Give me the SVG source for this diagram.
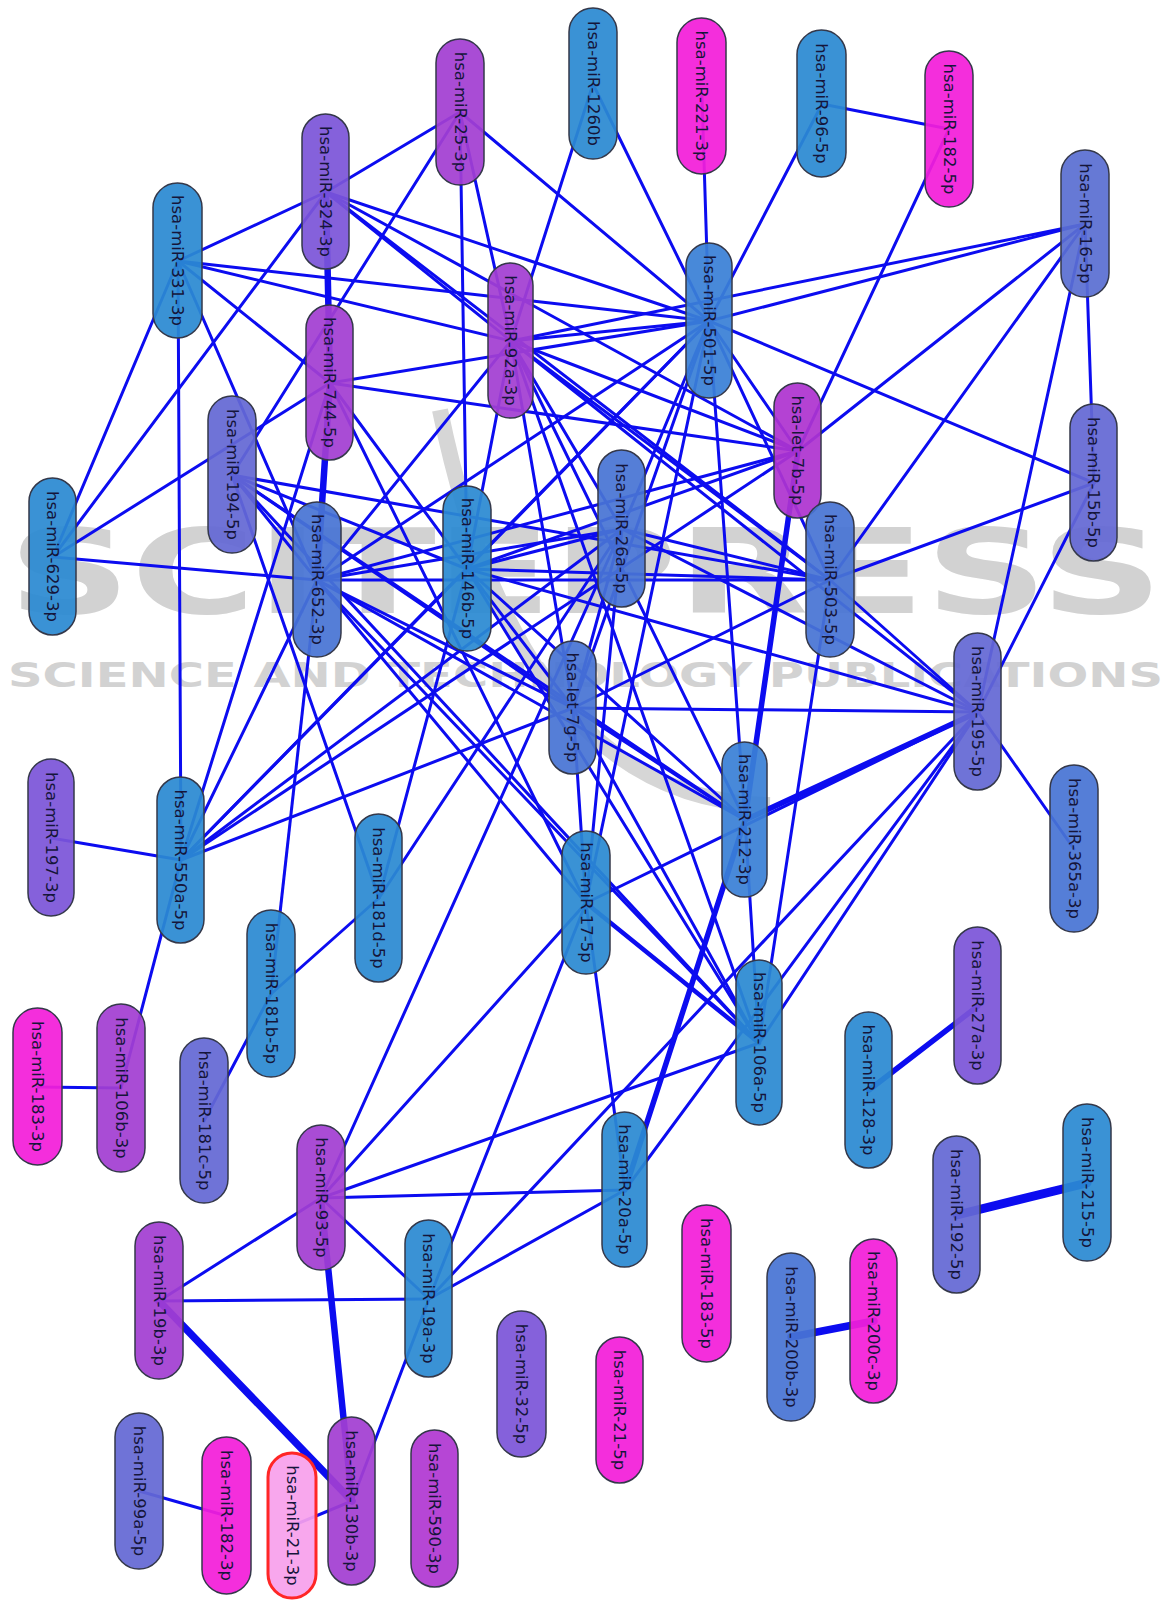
<svg xmlns="http://www.w3.org/2000/svg" width="1168" height="1600" viewBox="0 0 1168 1600">
<style>
.wm{fill:#d2d2d2;font-family:"DejaVu Sans",sans-serif;font-weight:bold}
.edges line{stroke:#0c0cf0;stroke-width:3;stroke-linecap:round}
.edges .w4{stroke-width:4.5}.edges .w5{stroke-width:5.5}.edges .w6{stroke-width:6.5}.edges .w7{stroke-width:7.5}.edges .w8{stroke-width:9}
.node rect{stroke:#34384a;stroke-width:1.5;fill-opacity:0.93}
.node text{font-family:"DejaVu Sans",sans-serif;font-size:16.5px;fill:#15153a;text-anchor:middle;dominant-baseline:central}
.sky rect{fill:#2b8ad2}.mid rect{fill:#3a80d6}.blu rect{fill:#4874d4}.sla rect{fill:#6468d4}.pur rect{fill:#7c55d8}.vio rect{fill:#a23ed2}.mag rect{fill:#f31ed9}
</style>
<rect width="1168" height="1600" fill="#ffffff"/>
<g id="watermark">
<path d="M440 410 Q 520 800 770 805" fill="none" stroke="#d6d6d6" stroke-width="16"/>
<text class="wm" x="8" y="613" font-size="118" textLength="1155" lengthAdjust="spacingAndGlyphs">SCITEPRESS</text>
<text class="wm" x="8" y="687" font-size="33" textLength="1155" lengthAdjust="spacingAndGlyphs">SCIENCE AND TECHNOLOGY PUBLICATIONS</text>
</g>
<g id="edges" class="edges">
<line x1="822" y1="104" x2="949" y2="129"/>
<line x1="822" y1="104" x2="709" y2="321"/>
<line x1="949" y1="129" x2="798" y2="451"/>
<line x1="702" y1="96" x2="709" y2="321"/>
<line x1="593" y1="84" x2="709" y2="321"/>
<line x1="593" y1="84" x2="511" y2="341"/>
<line x1="460" y1="112" x2="326" y2="192"/>
<line x1="460" y1="112" x2="232" y2="475"/>
<line x1="460" y1="112" x2="511" y2="341"/>
<line x1="460" y1="112" x2="709" y2="321"/>
<line x1="460" y1="112" x2="467" y2="569"/>
<line x1="178" y1="261" x2="326" y2="192"/>
<line x1="178" y1="261" x2="709" y2="321"/>
<line x1="178" y1="261" x2="511" y2="341"/>
<line x1="178" y1="261" x2="330" y2="383"/>
<line x1="178" y1="261" x2="317" y2="580"/>
<line x1="178" y1="261" x2="181" y2="860"/>
<line x1="178" y1="261" x2="53" y2="557"/>
<line x1="326" y1="192" x2="53" y2="557"/>
<line class="w6" x1="326" y1="192" x2="330" y2="383"/>
<line x1="326" y1="192" x2="709" y2="321"/>
<line x1="326" y1="192" x2="798" y2="451"/>
<line x1="326" y1="192" x2="830" y2="580"/>
<line x1="326" y1="192" x2="511" y2="341"/>
<line x1="330" y1="383" x2="53" y2="557"/>
<line class="w6" x1="330" y1="383" x2="317" y2="580"/>
<line x1="330" y1="383" x2="181" y2="860"/>
<line x1="330" y1="383" x2="709" y2="321"/>
<line x1="330" y1="383" x2="798" y2="451"/>
<line x1="330" y1="383" x2="467" y2="569"/>
<line x1="330" y1="383" x2="586" y2="903"/>
<line x1="511" y1="341" x2="709" y2="321"/>
<line x1="511" y1="341" x2="1085" y2="224"/>
<line x1="511" y1="341" x2="798" y2="451"/>
<line x1="511" y1="341" x2="830" y2="580"/>
<line x1="511" y1="341" x2="978" y2="712"/>
<line x1="511" y1="341" x2="622" y2="529"/>
<line x1="511" y1="341" x2="573" y2="708"/>
<line x1="511" y1="341" x2="745" y2="820"/>
<line x1="511" y1="341" x2="317" y2="580"/>
<line x1="511" y1="341" x2="467" y2="569"/>
<line x1="511" y1="341" x2="759" y2="1043"/>
<line x1="709" y1="321" x2="1085" y2="224"/>
<line x1="709" y1="321" x2="1094" y2="483"/>
<line x1="709" y1="321" x2="798" y2="451"/>
<line x1="709" y1="321" x2="830" y2="580"/>
<line x1="709" y1="321" x2="622" y2="529"/>
<line x1="709" y1="321" x2="467" y2="569"/>
<line x1="709" y1="321" x2="317" y2="580"/>
<line x1="709" y1="321" x2="573" y2="708"/>
<line x1="709" y1="321" x2="586" y2="903"/>
<line x1="709" y1="321" x2="181" y2="860"/>
<line x1="709" y1="321" x2="745" y2="820"/>
<line x1="1085" y1="224" x2="798" y2="451"/>
<line x1="1085" y1="224" x2="830" y2="580"/>
<line x1="1085" y1="224" x2="978" y2="712"/>
<line x1="1085" y1="224" x2="1094" y2="483"/>
<line x1="1094" y1="483" x2="830" y2="580"/>
<line x1="1094" y1="483" x2="978" y2="712"/>
<line x1="978" y1="712" x2="1074" y2="849"/>
<line x1="978" y1="712" x2="622" y2="529"/>
<line x1="978" y1="712" x2="467" y2="569"/>
<line x1="978" y1="712" x2="573" y2="708"/>
<line class="w5" x1="978" y1="712" x2="745" y2="820"/>
<line x1="978" y1="712" x2="586" y2="903"/>
<line x1="978" y1="712" x2="429" y2="1299"/>
<line x1="978" y1="712" x2="625" y2="1190"/>
<line x1="978" y1="712" x2="759" y2="1043"/>
<line x1="978" y1="712" x2="830" y2="580"/>
<line x1="830" y1="580" x2="759" y2="1043"/>
<line x1="830" y1="580" x2="317" y2="580"/>
<line x1="830" y1="580" x2="467" y2="569"/>
<line x1="830" y1="580" x2="573" y2="708"/>
<line x1="830" y1="580" x2="622" y2="529"/>
<line x1="830" y1="580" x2="232" y2="475"/>
<line class="w5" x1="798" y1="451" x2="745" y2="820"/>
<line x1="798" y1="451" x2="317" y2="580"/>
<line x1="798" y1="451" x2="467" y2="569"/>
<line x1="798" y1="451" x2="181" y2="860"/>
<line x1="53" y1="557" x2="317" y2="580"/>
<line x1="232" y1="475" x2="317" y2="580"/>
<line x1="232" y1="475" x2="467" y2="569"/>
<line x1="232" y1="475" x2="573" y2="708"/>
<line x1="232" y1="475" x2="745" y2="820"/>
<line x1="232" y1="475" x2="379" y2="898"/>
<line x1="232" y1="475" x2="759" y2="1043"/>
<line x1="317" y1="580" x2="271" y2="994"/>
<line x1="317" y1="580" x2="181" y2="860"/>
<line x1="317" y1="580" x2="622" y2="529"/>
<line x1="317" y1="580" x2="573" y2="708"/>
<line x1="317" y1="580" x2="586" y2="903"/>
<line x1="317" y1="580" x2="745" y2="820"/>
<line x1="317" y1="580" x2="759" y2="1043"/>
<line x1="467" y1="569" x2="181" y2="860"/>
<line x1="467" y1="569" x2="379" y2="898"/>
<line x1="467" y1="569" x2="573" y2="708"/>
<line x1="467" y1="569" x2="759" y2="1043"/>
<line x1="467" y1="569" x2="745" y2="820"/>
<line x1="467" y1="569" x2="622" y2="529"/>
<line x1="622" y1="529" x2="181" y2="860"/>
<line x1="622" y1="529" x2="321" y2="1198"/>
<line x1="622" y1="529" x2="586" y2="903"/>
<line x1="622" y1="529" x2="573" y2="708"/>
<line x1="573" y1="708" x2="181" y2="860"/>
<line x1="573" y1="708" x2="586" y2="903"/>
<line x1="573" y1="708" x2="759" y2="1043"/>
<line x1="573" y1="708" x2="745" y2="820"/>
<line class="w4" x1="586" y1="903" x2="759" y2="1043"/>
<line x1="586" y1="903" x2="625" y2="1190"/>
<line x1="586" y1="903" x2="321" y2="1198"/>
<line x1="586" y1="903" x2="429" y2="1299"/>
<line class="w5" x1="745" y1="820" x2="625" y2="1190"/>
<line x1="745" y1="820" x2="759" y2="1043"/>
<line x1="321" y1="1198" x2="625" y2="1190"/>
<line x1="321" y1="1198" x2="759" y2="1043"/>
<line x1="321" y1="1198" x2="429" y2="1299"/>
<line x1="321" y1="1198" x2="159" y2="1301"/>
<line class="w6" x1="321" y1="1198" x2="352" y2="1501"/>
<line x1="159" y1="1301" x2="429" y2="1299"/>
<line class="w7" x1="159" y1="1301" x2="352" y2="1501"/>
<line x1="429" y1="1299" x2="352" y2="1501"/>
<line x1="429" y1="1299" x2="625" y2="1190"/>
<line x1="379" y1="898" x2="271" y2="994"/>
<line x1="271" y1="994" x2="204" y2="1121"/>
<line x1="379" y1="898" x2="622" y2="529"/>
<line x1="51" y1="838" x2="181" y2="860"/>
<line x1="181" y1="860" x2="121" y2="1088"/>
<line x1="121" y1="1088" x2="38" y2="1087"/>
<line class="w5" x1="869" y1="1090" x2="978" y2="1006"/>
<line class="w8" x1="957" y1="1215" x2="1087" y2="1183"/>
<line class="w7" x1="791" y1="1337" x2="874" y2="1321"/>
<line x1="139" y1="1491" x2="227" y2="1516"/>
<line x1="292" y1="1526" x2="352" y2="1501"/>
</g>
<g id="nodes">
<g id="n331" class="node sky"><rect x="153" y="183" width="49" height="155" rx="24.5"/><text transform="translate(177.5 260.5) rotate(90)">hsa-miR-331-3p</text></g>
<g id="n324" class="node pur"><rect x="302" y="114" width="47" height="155" rx="23.5"/><text transform="translate(325.5 191.5) rotate(90)">hsa-miR-324-3p</text></g>
<g id="n744" class="node vio"><rect x="306" y="305" width="47" height="155" rx="23.5"/><text transform="translate(329.5 382.5) rotate(90)">hsa-miR-744-5p</text></g>
<g id="n25" class="node vio"><rect x="436" y="39" width="48" height="146" rx="24"/><text transform="translate(460 112) rotate(90)">hsa-miR-25-3p</text></g>
<g id="n1260b" class="node sky"><rect x="569" y="8" width="48" height="151" rx="24"/><text transform="translate(593 83.5) rotate(90)">hsa-miR-1260b</text></g>
<g id="n221" class="node mag"><rect x="677" y="18" width="49" height="156" rx="24.5"/><text transform="translate(701.5 96) rotate(90)">hsa-miR-221-3p</text></g>
<g id="n92a" class="node vio"><rect x="488" y="263" width="45" height="155" rx="22.5"/><text transform="translate(510.5 340.5) rotate(90)">hsa-miR-92a-3p</text></g>
<g id="n501" class="node mid"><rect x="686" y="243" width="46" height="155" rx="23"/><text transform="translate(709 320.5) rotate(90)">hsa-miR-501-5p</text></g>
<g id="n96" class="node sky"><rect x="797" y="30" width="49" height="147" rx="24.5"/><text transform="translate(821.5 103.5) rotate(90)">hsa-miR-96-5p</text></g>
<g id="n182-5p" class="node mag"><rect x="925" y="51" width="48" height="156" rx="24"/><text transform="translate(949 129) rotate(90)">hsa-miR-182-5p</text></g>
<g id="n16" class="node sla"><rect x="1061" y="150" width="48" height="147" rx="24" style="fill:#5a6fd2"/><text transform="translate(1085 223.5) rotate(90)">hsa-miR-16-5p</text></g>
<g id="nlet7b" class="node vio"><rect x="774" y="383" width="47" height="135" rx="23.5" style="fill:#ae34d0"/><text transform="translate(797.5 450.5) rotate(90)">hsa-let-7b-5p</text></g>
<g id="n503" class="node blu"><rect x="806" y="502" width="48" height="155" rx="24"/><text transform="translate(830 579.5) rotate(90)">hsa-miR-503-5p</text></g>
<g id="n15b" class="node sla"><rect x="1070" y="404" width="47" height="157" rx="23.5"/><text transform="translate(1093.5 482.5) rotate(90)">hsa-miR-15b-5p</text></g>
<g id="n195" class="node sla"><rect x="954" y="633" width="47" height="157" rx="23.5"/><text transform="translate(977.5 711.5) rotate(90)">hsa-miR-195-5p</text></g>
<g id="n365a" class="node blu"><rect x="1050" y="765" width="48" height="167" rx="24"/><text transform="translate(1074 848.5) rotate(90)">hsa-miR-365a-3p</text></g>
<g id="n629" class="node sky"><rect x="29" y="478" width="47" height="157" rx="23.5"/><text transform="translate(52.5 556.5) rotate(90)">hsa-miR-629-3p</text></g>
<g id="n194" class="node sla"><rect x="208" y="396" width="48" height="157" rx="24"/><text transform="translate(232 474.5) rotate(90)">hsa-miR-194-5p</text></g>
<g id="n652" class="node blu"><rect x="293" y="502" width="48" height="155" rx="24"/><text transform="translate(317 579.5) rotate(90)">hsa-miR-652-3p</text></g>
<g id="n550a" class="node sky"><rect x="157" y="777" width="47" height="166" rx="23.5"/><text transform="translate(180.5 860) rotate(90)">hsa-miR-550a-5p</text></g>
<g id="n197" class="node pur"><rect x="28" y="759" width="46" height="157" rx="23"/><text transform="translate(51 837.5) rotate(90)">hsa-miR-197-3p</text></g>
<g id="n146b" class="node sky"><rect x="443" y="486" width="48" height="165" rx="24"/><text transform="translate(467 568.5) rotate(90)">hsa-miR-146b-5p</text></g>
<g id="n26a" class="node blu"><rect x="598" y="450" width="47" height="157" rx="23.5"/><text transform="translate(621.5 528.5) rotate(90)">hsa-miR-26a-5p</text></g>
<g id="nlet7g" class="node blu"><rect x="549" y="641" width="47" height="133" rx="23.5"/><text transform="translate(572.5 707.5) rotate(90)">hsa-let-7g-5p</text></g>
<g id="n212" class="node mid"><rect x="722" y="742" width="45" height="155" rx="22.5"/><text transform="translate(744.5 819.5) rotate(90)">hsa-miR-212-3p</text></g>
<g id="n181d" class="node sky"><rect x="355" y="814" width="47" height="168" rx="23.5"/><text transform="translate(378.5 898) rotate(90)">hsa-miR-181d-5p</text></g>
<g id="n181b" class="node sky"><rect x="247" y="910" width="48" height="167" rx="24"/><text transform="translate(271 993.5) rotate(90)">hsa-miR-181b-5p</text></g>
<g id="n183-3p" class="node mag"><rect x="13" y="1008" width="49" height="157" rx="24.5"/><text transform="translate(37.5 1086.5) rotate(90)">hsa-miR-183-3p</text></g>
<g id="n106b" class="node vio"><rect x="97" y="1004" width="48" height="168" rx="24"/><text transform="translate(121 1088) rotate(90)">hsa-miR-106b-3p</text></g>
<g id="n181c" class="node sla"><rect x="180" y="1038" width="48" height="165" rx="24"/><text transform="translate(204 1120.5) rotate(90)">hsa-miR-181c-5p</text></g>
<g id="n93" class="node vio"><rect x="297" y="1125" width="48" height="145" rx="24"/><text transform="translate(321 1197.5) rotate(90)">hsa-miR-93-5p</text></g>
<g id="n17" class="node sky"><rect x="562" y="831" width="48" height="143" rx="24"/><text transform="translate(586 902.5) rotate(90)">hsa-miR-17-5p</text></g>
<g id="n106a" class="node sky"><rect x="736" y="960" width="46" height="165" rx="23"/><text transform="translate(759 1042.5) rotate(90)">hsa-miR-106a-5p</text></g>
<g id="n20a" class="node sky"><rect x="602" y="1112" width="45" height="155" rx="22.5"/><text transform="translate(624.5 1189.5) rotate(90)">hsa-miR-20a-5p</text></g>
<g id="n27a" class="node pur"><rect x="954" y="927" width="47" height="157" rx="23.5"/><text transform="translate(977.5 1005.5) rotate(90)">hsa-miR-27a-3p</text></g>
<g id="n128" class="node sky"><rect x="845" y="1012" width="47" height="156" rx="23.5"/><text transform="translate(868.5 1090) rotate(90)">hsa-miR-128-3p</text></g>
<g id="n192" class="node sla"><rect x="933" y="1136" width="47" height="157" rx="23.5"/><text transform="translate(956.5 1214.5) rotate(90)">hsa-miR-192-5p</text></g>
<g id="n215" class="node sky"><rect x="1063" y="1104" width="48" height="157" rx="24"/><text transform="translate(1087 1182.5) rotate(90)">hsa-miR-215-5p</text></g>
<g id="n19b" class="node vio"><rect x="135" y="1222" width="48" height="157" rx="24"/><text transform="translate(159 1300.5) rotate(90)">hsa-miR-19b-3p</text></g>
<g id="n99a" class="node sla"><rect x="115" y="1413" width="48" height="156" rx="24"/><text transform="translate(139 1491) rotate(90)">hsa-miR-99a-5p</text></g>
<g id="n182-3p" class="node mag"><rect x="202" y="1437" width="49" height="157" rx="24.5"/><text transform="translate(226.5 1515.5) rotate(90)">hsa-miR-182-3p</text></g>
<g id="n21-3p" class="node"><rect x="268" y="1453" width="48" height="145" rx="24" style="fill:#f7a0ec;stroke:#ff2626;stroke-width:3"/><text transform="translate(292 1525.5) rotate(90)">hsa-miR-21-3p</text></g>
<g id="n130b" class="node vio"><rect x="328" y="1417" width="47" height="168" rx="23.5"/><text transform="translate(351.5 1501) rotate(90)">hsa-miR-130b-3p</text></g>
<g id="n19a" class="node sky"><rect x="405" y="1220" width="47" height="157" rx="23.5"/><text transform="translate(428.5 1298.5) rotate(90)">hsa-miR-19a-3p</text></g>
<g id="n32" class="node pur"><rect x="497" y="1311" width="49" height="146" rx="24.5"/><text transform="translate(521.5 1384) rotate(90)">hsa-miR-32-5p</text></g>
<g id="n21-5p" class="node mag"><rect x="596" y="1337" width="47" height="146" rx="23.5"/><text transform="translate(619.5 1410) rotate(90)">hsa-miR-21-5p</text></g>
<g id="n183-5p" class="node mag"><rect x="682" y="1205" width="49" height="157" rx="24.5"/><text transform="translate(706.5 1283.5) rotate(90)">hsa-miR-183-5p</text></g>
<g id="n590" class="node vio"><rect x="411" y="1430" width="47" height="157" rx="23.5" style="fill:#b038d2"/><text transform="translate(434.5 1508.5) rotate(90)">hsa-miR-590-3p</text></g>
<g id="n200b" class="node blu"><rect x="767" y="1253" width="48" height="168" rx="24"/><text transform="translate(791 1337) rotate(90)">hsa-miR-200b-3p</text></g>
<g id="n200c" class="node mag"><rect x="850" y="1239" width="47" height="164" rx="23.5"/><text transform="translate(873.5 1321) rotate(90)">hsa-miR-200c-3p</text></g>
</g>
</svg>
